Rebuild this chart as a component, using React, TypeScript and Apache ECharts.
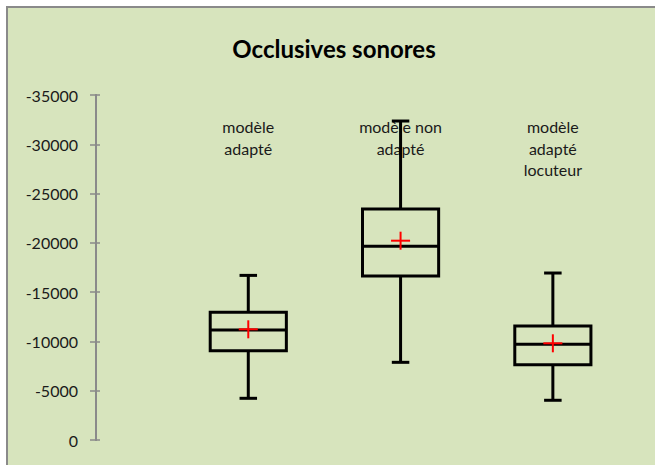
import React, { useEffect, useRef } from "react";
import * as echarts from "echarts";

const titleText = "Occlusives sonores";
const categories = ["modèle\nadapté", "modèle non\nadapté", "modèle\nadapté\nlocuteur"];
const positions = [1, 2, 3];
const whiskerLow = [-4230, -7880, -4030];
const q1 = [-9060, -16640, -7640];
const median = [-11160, -19650, -9710];
const q3 = [-12950, -23430, -11570];
const whiskerHigh = [-16700, -32360, -16940];
const means = [-11230, -20220, -9810];
const yMin = -35000;
const yMax = 0;
const yInterval = 5000;

const FONT = "Lato, 'Open Sans', sans-serif";
const AXIS_GRAY = "#8a8a8a";

export default function App() {
  const ref = useRef<HTMLDivElement>(null);
  useEffect(() => {
    if (!ref.current) return;
    const chart = echarts.init(ref.current, undefined, { renderer: "svg" });
    const data = positions.map((p, i) => [
      p,
      whiskerLow[i],
      q1[i],
      median[i],
      q3[i],
      whiskerHigh[i],
      means[i],
      i,
    ]);
    const yAxisBase = {
      type: "value",
      min: yMin,
      max: yMax,
      interval: yInterval,
      inverse: true,
      position: "left",
      splitLine: { show: false },
      axisLine: { show: true, lineStyle: { color: AXIS_GRAY, width: 2 } },
    };
    chart.setOption({
      animation: false,
      backgroundColor: "#ffffff",
      title: {
        text: titleText,
        left: 329,
        top: 31,
        textAlign: "center",
        textStyle: { fontFamily: FONT, fontWeight: "bold", fontSize: 24, color: "#000" },
      },
      graphic: [
        {
          type: "rect",
          z: -10,
          silent: true,
          shape: { x: 7, y: 7, width: 720, height: 520 },
          style: { fill: "#d7e4bd", stroke: AXIS_GRAY, lineWidth: 2 },
        },
      ],
      grid: { left: 96, right: 26, top: 95, bottom: 25 },
      xAxis: { type: "value", min: 0, max: 3.5, show: false },
      yAxis: [
        {
          ...yAxisBase,
          axisTick: { show: true, inside: false, length: 6, lineStyle: { color: AXIS_GRAY, width: 1.5 } },
          axisLabel: {
            show: true,
            margin: 18,
            fontFamily: FONT,
            fontSize: 16,
            color: "#1a1a1a",
            formatter: (v: number) => String(v),
          },
        },
        {
          ...yAxisBase,
          axisTick: { show: true, inside: true, length: 4, lineStyle: { color: AXIS_GRAY, width: 1.5 } },
          axisLabel: { show: false },
        },
      ],
      series: [
        {
          type: "custom",
          xAxisIndex: 0,
          yAxisIndex: 0,
          data,
          renderItem: (params: any, api: any) => {
            const x = api.value(0);
            const idx = api.value(7);
            const lo = api.coord([x, api.value(1)]);
            const b1 = api.coord([x, api.value(2)]);
            const md = api.coord([x, api.value(3)]);
            const b3 = api.coord([x, api.value(4)]);
            const hi = api.coord([x, api.value(5)]);
            const mn = api.coord([x, api.value(6)]);
            const cx = lo[0];
            const boxW = api.size([0.5, 0])[0];
            const capW = api.size([0.115, 0])[0];
            const crossW = api.size([0.125, 0])[0];
            const crossH = 18;
            const black = { stroke: "#000", lineWidth: 3, fill: "none" };
            const red = { stroke: "#ff0000", lineWidth: 2 };
            const top = Math.min(b1[1], b3[1]);
            const h = Math.abs(b1[1] - b3[1]);
            return {
              type: "group",
              children: [
                {
                  type: "text",
                  style: {
                    text: categories[idx],
                    x: cx,
                    y: 116,
                    align: "center",
                    verticalAlign: "top",
                    lineHeight: 21.5,
                    fontFamily: FONT,
                    fontSize: 16,
                    fill: "#1a1a1a",
                  },
                },
                { type: "line", shape: { x1: cx, y1: hi[1], x2: cx, y2: b3[1] }, style: black },
                { type: "line", shape: { x1: cx, y1: b1[1], x2: cx, y2: lo[1] }, style: black },
                { type: "line", shape: { x1: cx - capW / 2, y1: hi[1], x2: cx + capW / 2, y2: hi[1] }, style: black },
                { type: "line", shape: { x1: cx - capW / 2, y1: lo[1], x2: cx + capW / 2, y2: lo[1] }, style: black },
                { type: "rect", shape: { x: cx - boxW / 2, y: top, width: boxW, height: h }, style: black },
                { type: "line", shape: { x1: cx - boxW / 2, y1: md[1], x2: cx + boxW / 2, y2: md[1] }, style: black },
                { type: "line", shape: { x1: cx - crossW / 2, y1: mn[1], x2: cx + crossW / 2, y2: mn[1] }, style: red },
                { type: "line", shape: { x1: cx, y1: mn[1] - crossH / 2, x2: cx, y2: mn[1] + crossH / 2 }, style: red },
              ],
            };
          },
        },
      ],
    });
    return () => chart.dispose();
  }, []);
  return (
    <div
      ref={ref}
      style={{ position: "fixed", left: 0, top: 0, width: 655, height: 465 }}
    />
  );
}
